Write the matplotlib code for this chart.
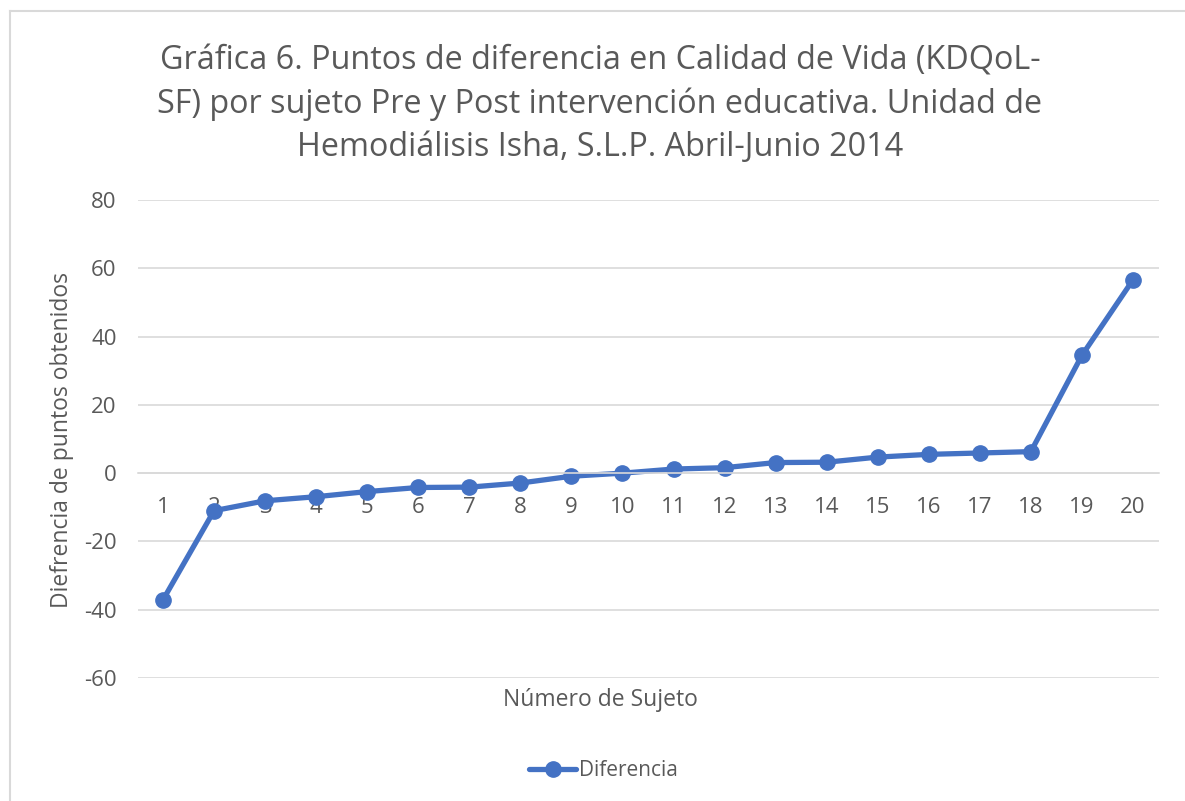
import matplotlib
matplotlib.use("Agg")
import matplotlib.pyplot as plt
from matplotlib.lines import Line2D

plt.rcParams['font.family'] = ['Open Sans', 'DejaVu Sans']
plt.rcParams['axes.unicode_minus'] = False

# datos
sujetos = list(range(1, 21))
diferencia = [-37.1, -11.0, -8.1, -6.9, -5.4, -4.2, -4.1, -2.9, -0.9, 0.0,
              1.2, 1.6, 3.1, 3.2, 4.7, 5.5, 5.9, 6.3, 34.5, 56.6]
yticks = [-60, -40, -20, 0, 20, 40, 60, 80]

titulo = ("Gráfica 6. Puntos de diferencia en Calidad de Vida (KDQoL-\n"
          "SF) por sujeto Pre y Post intervención educativa. Unidad de\n"
          "Hemodiálisis Isha, S.L.P. Abril-Junio 2014")

gris = "#595959"
azul = "#4472C4"

W, H = 1185, 801
fig = plt.figure(figsize=(W / 100, H / 100), dpi=100)

# marco del area del grafico (solo se ve arriba y a la izquierda)
fig.lines.append(Line2D([9.5 / W, 9.5 / W], [0, 1 - 10.5 / H], transform=fig.transFigure,
                        color="#d9d9d9", linewidth=1.5))
fig.lines.append(Line2D([9.5 / W, 1], [1 - 10.5 / H, 1 - 10.5 / H], transform=fig.transFigure,
                        color="#d9d9d9", linewidth=1.5))

ax = fig.add_axes([137.5 / W, 1 - 678 / H, (1158.5 - 137.5) / W, (678 - 200) / H])
ax.plot(sujetos, diferencia, color=azul, linewidth=3.8, marker="o", markersize=11,
        label="Diferencia", solid_capstyle="round")

ax.set_xlim(0.5, 20.5)
ax.set_ylim(-60, 80)
ax.set_yticks(yticks)
ax.set_xticks(sujetos)
ax.grid(axis="y", color="#d9d9d9", linewidth=1.2)
ax.set_axisbelow(True)
for s in ["top", "right", "left"]:
    ax.spines[s].set_visible(False)
ax.spines["bottom"].set_position(("data", 0))
ax.spines["bottom"].set_color("#d9d9d9")
ax.spines["bottom"].set_linewidth(1.2)
ax.tick_params(axis="both", length=0, labelsize=16, labelcolor=gris)
ax.tick_params(axis="x", pad=17)
ax.tick_params(axis="y", pad=15)

fig.text(600 / W, 1 - 700 / H, "Número de Sujeto", ha="center", va="center",
         fontsize=16.5, color=gris)
fig.text(62 / W, 1 - 440 / H, "Diefrencia de puntos obtenidos", ha="center", va="center",
         rotation=90, fontsize=16.5, color=gris)
fig.text(600 / W, 1 - 104 / H, titulo, ha="center", va="center", fontsize=23.3,
         color=gris, linespacing=1.4)

fig.legend(loc="center", bbox_to_anchor=(603 / W, 1 - 771 / H), frameon=False,
           fontsize=15, labelcolor=gris, handlelength=2.3, handletextpad=0.1)

fig.savefig("out.png", dpi=100, facecolor="white")
